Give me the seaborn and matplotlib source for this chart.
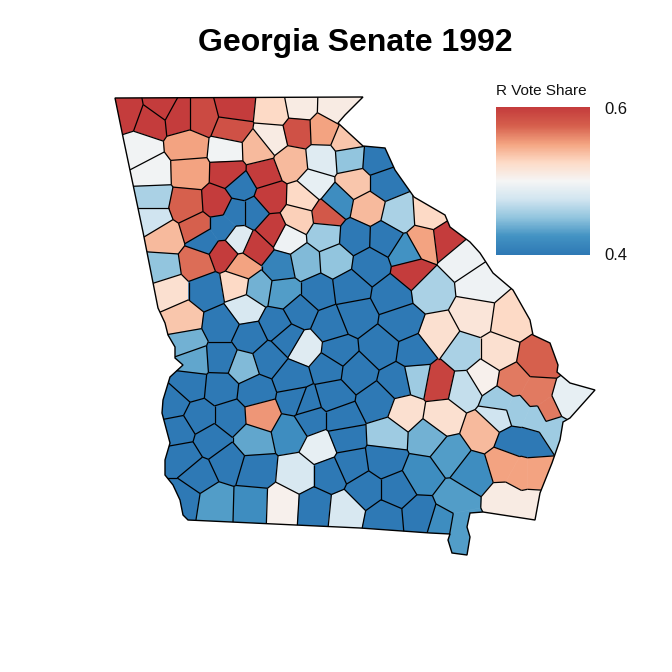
import numpy as np
import matplotlib
matplotlib.use("Agg")
import matplotlib.pyplot as plt
from matplotlib.collections import LineCollection
from matplotlib.colors import LinearSegmentedColormap, Normalize
from matplotlib.patches import Polygon
import seaborn as sns

# State outline in map units
outline_x = [115,361,363,345,338,363,385,395,414,445,450,470,480,493,513,530,533,550,558,557,570,595,
             570,563,560,552,540,535,483,470,467,470,467,452,448,450,430,360,188,183,180,173,165,165,170,162,163,170,183,175,175,168,165,158,143,123]
outline_y = [98,97,97,115,123,146,148,170,197,215,227,242,253,273,290,320,335,343,365,372,383,390,
             418,422,440,463,493,520,512,513,527,537,555,553,540,534,533,528,520,515,500,485,475,460,443,413,400,377,365,358,347,335,323,308,232,137]

# County anchor points and Republican vote share
county_x = [128,150,160,180,200,235,232,140,152,188,
            228,190,229,263,257,272,274,300,335,298,
            323,347,292,322,350,377,385,315,355,303,
            337,327,368,398,430,447,423,462,298,288,
            325,270,273,256,153,153,165,187,218,198,
            241,253,222,238,224,197,163,243,280,305,
            335,355,385,370,407,412,430,480,510,475,
            438,463,498,537,438,417,415,465,483,513,
            567,500,498,318,350,393,330,355,402,
            380,338,357,398,378,328,305,333,305,170,
            207,237,258,283,245,183,222,250,277,300,
            288,187,193,222,268,243,293,190,221,255,
            297,173,199,230,261,291,310,253,212,178,
            320,183,198,228,255,298,183,215,252,282,
            315,345,330,350,342,345,405,442,483,388,
            428,450,472,422,530,523,507,455,443,385,
            365,397,385,420]
county_y = [112,120,106,117,117,108,130,150,173,146,
            150,172,173,174,149,137,112,107,108,131,
            130,140,163,160,158,160,183,184,183,198,
            202,214,208,215,213,240,243,258,218,238,
            235,197,230,248,198,218,238,205,203,228,
            187,212,228,240,253,263,268,267,267,262,
            260,237,238,265,252,272,290,285,320,315,
            335,353,353,360,382,378,353,388,377,382,
            403,402,416,292,288,295,325,315,322,
            348,352,372,382,402,368,348,395,403,290,
            290,285,288,292,308,320,325,338,325,312,
            338,343,360,358,358,366,378,385,388,392,
            400,404,417,417,415,432,420,440,440,430,
            447,458,476,462,470,474,498,503,504,505,
            507,510,474,465,420,437,412,418,432,435,
            437,455,472,475,443,472,502,500,522,460,
            490,490,518,515]
county_share = [.6,.6,.6,.6,.59,.6,.585,.497,.497,.55,
                .497,.55,.6,.6,.54,.51,.525,.51,.51,.585,
                .55,.535,.54,.485,.45,.4,.4,.49,.535,.525,
                .42,.58,.54,.46,.525,.6,.55,.495,.53,.495,
                .455,.6,.6,.6,.46,.475,.54,.575,.6,.575,
                .4,.4,.4,.485,.6,.57,.45,.55,.41,.445,
                .45,.4,.4,.4,.425,.6,.46,.495,.525,.515,
                .52,.46,.52,.575,.595,.455,.4,.47,.505,.565,
                .49,.455,.475,.4,.4,.4,.4,.4,.4,
                .4,.4,.4,.4,.4,.4,.485,.4,.4,.52,
                .4,.525,.44,.43,.48,.535,.4,.4,.4,.4,
                .4,.44,.435,.4,.4,.445,.4,.4,.4,.4,
                .4,.4,.4,.4,.555,.42,.4,.435,.4,.4,
                .49,.4,.4,.4,.4,.48,.4,.43,.42,.505,
                .4,.48,.4,.4,.4,.4,.52,.52,.54,.455,
                .44,.43,.42,.42,.4,.55,.51,.43,.42,.4,
                .4,.4,.4,.4]

# Extra anchors that widen a county into a long shape: owner anchor, then the added point
part_owner_x = [222,222,513,513,500,500,500,530,523,523,455,455,507]
part_owner_y = [228,228,382,382,402,402,402,443,472,472,500,500,502]
part_x = [236,205,535,548,517,537,553,512,505,532,460,460,530]
part_y = [212,240,394,412,410,418,428,443,462,472,525,545,507]

legend_title = "R Vote Share"
legend_ticks = ["0.6", "0.4"]
chart_title = "Georgia Senate 1992"
share_low, share_high = 0.4, 0.6
ramp = ["#2E79B5", "#4393C3", "#92C5DE", "#D1E5F0", "#F5F5F5", "#FDDBC7", "#F4A582", "#D6604D", "#C43C3C"]

sns.set_style("white")
plt.rcParams["font.family"] = ["Liberation Sans", "DejaVu Sans"]
cmap = LinearSegmentedColormap.from_list("share", ramp)
norm = Normalize(share_low, share_high, clip=True)


def clip_cell(points, tags, p, q, j):
    # keep the side of the bisector of p and q nearer p; edges remember the neighbour they face
    mid = (p + q) / 2
    d = (points - mid) @ (q - p)
    new_points, new_tags = [], []
    n = len(points)
    for i in range(n):
        k = (i + 1) % n
        a, b, da, db = points[i], points[k], d[i], d[k]
        if da <= 0:
            new_points.append(a)
            new_tags.append(tags[i])
        if da * db < 0:
            new_points.append(a + (b - a) * da / (da - db))
            new_tags.append(j if da <= 0 else tags[i])
    return np.array(new_points).reshape(-1, 2), new_tags


fig = plt.figure(figsize=(6.72, 6.72), dpi=100)
ax = fig.add_axes([0, 0, 1, 1])
ax.set_xlim(0, 672)
ax.set_ylim(672, 0)
ax.axis("off")

state = np.column_stack([outline_x, outline_y]).astype(float)
state_patch = Polygon(state, closed=True, facecolor="none", edgecolor="black", linewidth=1.0, zorder=5)
ax.add_patch(state_patch)

n_county = len(county_x)
owner = list(range(n_county))
for ox, oy in zip(part_owner_x, part_owner_y):
    owner.append(next(i for i in range(n_county) if county_x[i] == ox and county_y[i] == oy))
seeds = np.column_stack([list(county_x) + part_x, list(county_y) + part_y]).astype(float)

box = np.array([[80.0, 70.0], [620.0, 70.0], [620.0, 580.0], [80.0, 580.0]])
borders = []
for i, s in enumerate(seeds):
    pts, tags = box, [-1, -1, -1, -1]
    for j in np.argsort(((seeds - s) ** 2).sum(axis=1))[1:45]:
        if len(pts) == 0:
            break
        pts, tags = clip_cell(pts, tags, s, seeds[j], int(j))
    if len(pts) < 3:
        continue
    colour = cmap(norm(county_share[owner[i]]))
    cell = ax.fill(pts[:, 0], pts[:, 1], facecolor=colour, edgecolor=colour, linewidth=0.4, zorder=2)[0]
    cell.set_clip_path(state_patch)
    for k, t in enumerate(tags):
        if t >= 0 and t > i and owner[t] != owner[i]:
            borders.append([pts[k], pts[(k + 1) % len(pts)]])

lines = LineCollection(borders, colors="black", linewidths=0.9, zorder=3)
ax.add_collection(lines)
lines.set_clip_path(state_patch)

fig.text(355 / 672, 1 - 43 / 672, chart_title, ha="center", va="center",
         fontsize=23, fontweight="bold", color="black")
fig.text(496 / 672, 1 - 91 / 672, legend_title, ha="left", va="center", fontsize=11, color="#111111")

cax = fig.add_axes([496 / 672, 1 - 255 / 672, 94 / 672, 148 / 672])
gradient = np.linspace(share_high, share_low, 148).reshape(-1, 1)
sns.heatmap(gradient, ax=cax, cmap=cmap, vmin=share_low, vmax=share_high, cbar=False,
            xticklabels=False, yticklabels=False)
fig.text(604 / 672, 1 - 109 / 672, legend_ticks[0], ha="left", va="center", fontsize=12, color="#111111")
fig.text(604 / 672, 1 - 256 / 672, legend_ticks[1], ha="left", va="center", fontsize=12, color="#111111")

fig.savefig("out.png", dpi=100)
